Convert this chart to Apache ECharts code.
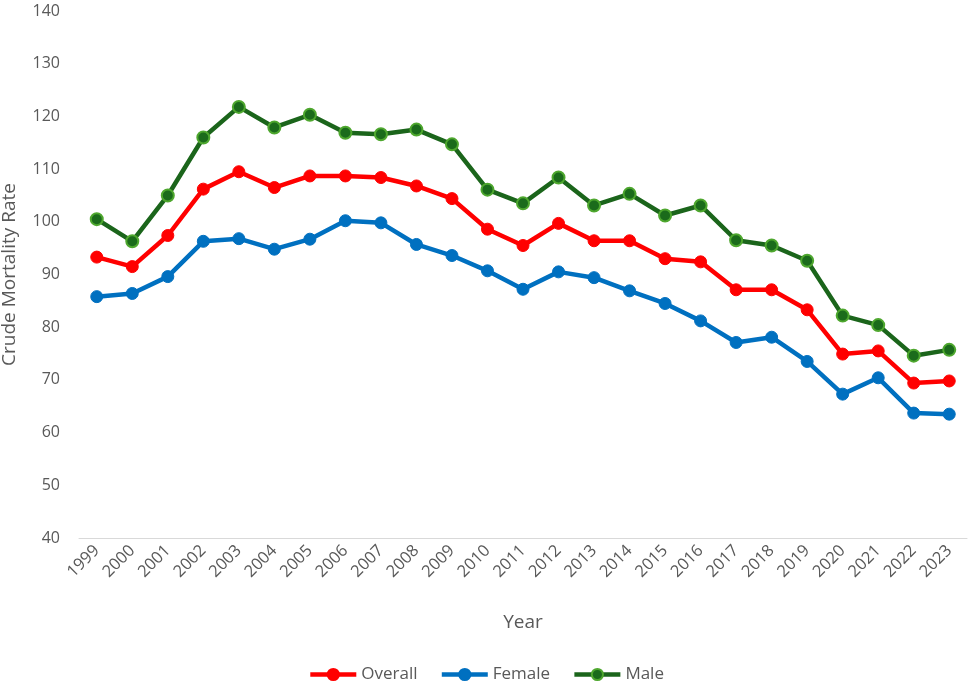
<!DOCTYPE html>
<html>
<head>
<meta charset="utf-8">
<script src="https://cdn.jsdelivr.net/npm/echarts@6/dist/echarts.min.js"></script>
<style>html,body{margin:0;padding:0;background:#fff;}#chart{width:972px;height:690px;}</style>
</head>
<body>
<div id="chart"></div>
<script>
const years = ['1999','2000','2001','2002','2003','2004','2005','2006','2007','2008','2009','2010','2011','2012','2013','2014','2015','2016','2017','2018','2019','2020','2021','2022','2023'];
const overall = [93.3,91.5,97.4,106.2,109.5,106.5,108.7,108.7,108.4,106.8,104.4,98.6,95.5,99.7,96.4,96.4,93.0,92.4,87.1,87.1,83.3,74.9,75.5,69.4,69.8];
const female = [85.8,86.4,89.6,96.3,96.8,94.8,96.7,100.2,99.8,95.7,93.6,90.7,87.2,90.5,89.4,86.9,84.5,81.2,77.1,78.1,73.5,67.3,70.4,63.7,63.5];
const male = [100.5,96.3,105.0,116.0,121.8,117.9,120.3,116.9,116.6,117.5,114.7,106.1,103.5,108.4,103.1,105.3,101.2,103.1,96.5,95.5,92.6,82.2,80.4,74.6,75.7];

const font = 'Open Sans, Liberation Sans, sans-serif';
const chart = echarts.init(document.getElementById('chart'));
chart.setOption({
  animation: false,
  textStyle: {fontFamily: font},
  grid: {left: 79, right: 5, top: 11, bottom: 152, containLabel: false, outerBoundsMode: 'none'},
  legend: {
    bottom: 2, left: 'center', itemWidth: 46, itemHeight: 14, itemGap: 22,
    textStyle: {fontSize: 17, color: '#595959', fontFamily: font},
    lineStyle: {width: 4.5},
    data: ['Overall','Female','Male']
  },
  xAxis: {
    type: 'category', data: years, boundaryGap: true,
    name: 'Year', nameLocation: 'middle', nameGap: 75,
    nameTextStyle: {fontSize: 19, color: '#595959'},
    axisLine: {lineStyle: {color: '#d9d9d9', width: 1}},
    axisTick: {show: false},
    axisLabel: {rotate: 45, fontSize: 16.5, color: '#595959', margin: 10, interval: 0}
  },
  yAxis: {
    type: 'value', min: 40, max: 140, interval: 10,
    name: 'Crude Mortality Rate', nameLocation: 'middle', nameGap: 60,
    nameTextStyle: {fontSize: 19, color: '#595959'},
    axisLine: {show: false}, axisTick: {show: false}, splitLine: {show: false},
    axisLabel: {fontSize: 16, color: '#595959', margin: 19}
  },
  series: [
    {name: 'Overall', type: 'line', data: overall, symbol: 'circle', symbolSize: 12,
     lineStyle: {color: '#FF0000', width: 4.5}, itemStyle: {color: '#FF0000', borderColor: '#FF0000', borderWidth: 1}},
    {name: 'Female', type: 'line', data: female, symbol: 'circle', symbolSize: 12,
     lineStyle: {color: '#0070C0', width: 4.5}, itemStyle: {color: '#0070C0', borderColor: '#0070C0', borderWidth: 1}},
    {name: 'Male', type: 'line', data: male, symbol: 'circle', symbolSize: 12,
     lineStyle: {color: '#1B651B', width: 4.5}, itemStyle: {color: '#1B6B1B', borderColor: '#4EA72E', borderWidth: 2}}
  ]
});
</script>
</body>
</html>
